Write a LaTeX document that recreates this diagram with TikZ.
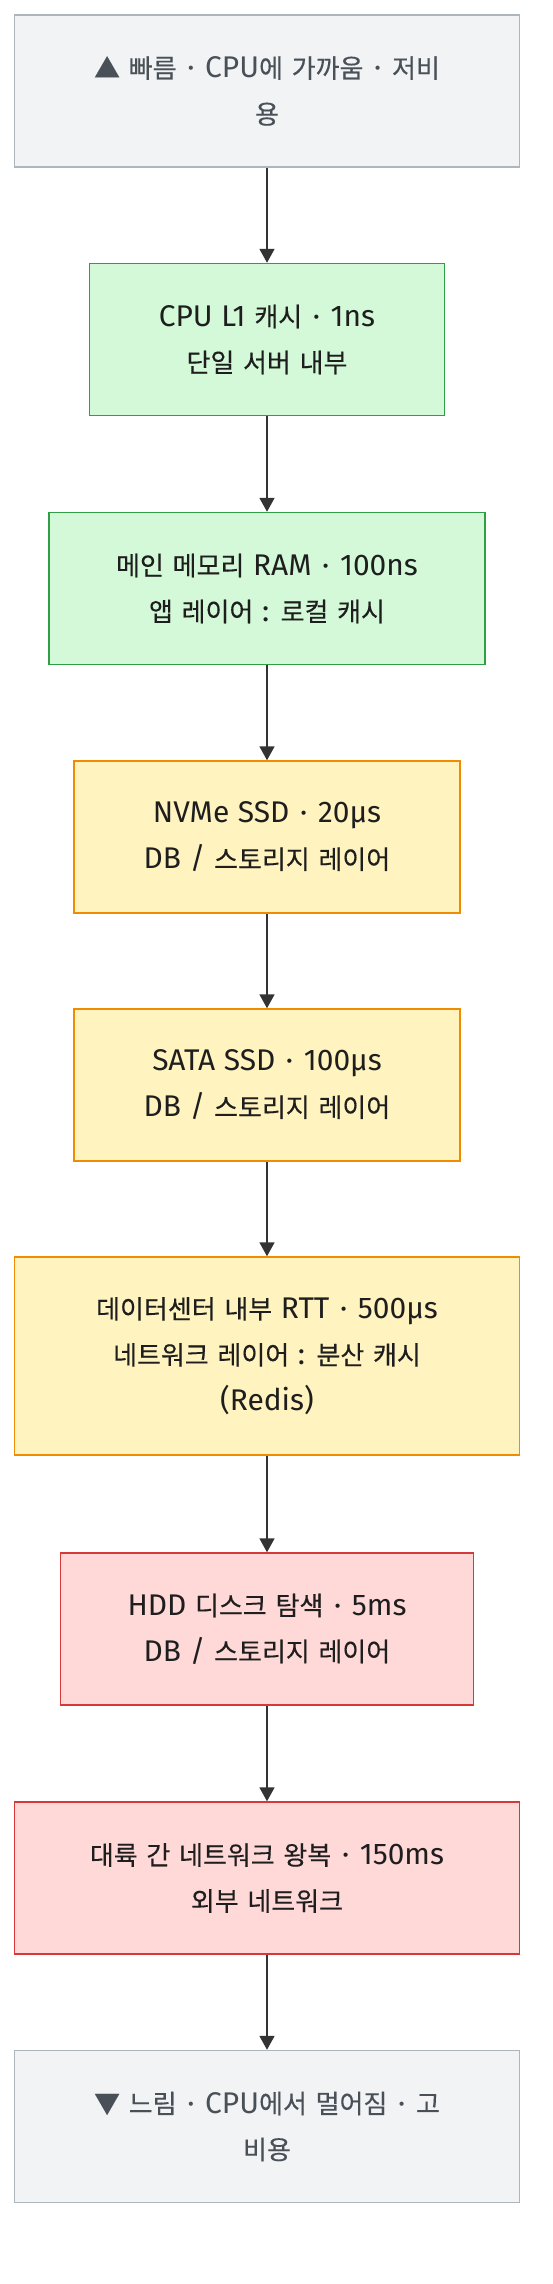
\documentclass[tikz,border=0pt]{standalone}
\usepackage{fontspec}
\setmainfont{Noto Sans CJK KR}[FakeBold=0.3]
\newfontfamily\latf{Fira Sans}[Scale=1.15]
\newcommand\LatRun[1]{{\latf #1}}
\newcommand\MD{\kern2pt·\kern2pt}
\newcommand\BoxFont{\fontsize{26}{46}\selectfont\spaceskip=8.7pt\relax}
\usetikzlibrary{arrows.meta}
\definecolor{grayfill}{HTML}{F1F3F5}
\definecolor{graydraw}{HTML}{ADB5BD}
\definecolor{graytext}{HTML}{495057}
\definecolor{greenfill}{HTML}{D3F9D8}
\definecolor{greendraw}{HTML}{2F9E44}
\definecolor{yellowfill}{HTML}{FFF3BF}
\definecolor{yellowdraw}{HTML}{F08C00}
\definecolor{redfill}{HTML}{FFD8D8}
\definecolor{reddraw}{HTML}{D63939}
\definecolor{maintext}{HTML}{1E1E1E}
\definecolor{arrowcol}{HTML}{333333}
\tikzset{
  box/.style={draw, line width=1.5pt, rectangle, inner sep=0pt, align=center,
    minimum height=152pt, font=\BoxFont, text=maintext},
  graybox/.style={box, fill=grayfill, draw=graydraw, text=graytext},
  greenbox/.style={box, fill=greenfill, draw=greendraw},
  yellowbox/.style={box, fill=yellowfill, draw=yellowdraw},
  redbox/.style={box, fill=redfill, draw=reddraw},
  conn/.style={draw=arrowcol, line width=1.8pt, -{Triangle[length=14pt,width=15pt]}}
}
\begin{document}
\begin{tikzpicture}
\useasboundingbox[fill=white] (0pt,0pt) rectangle (552pt,-2284pt);
\node[graybox, minimum width=505pt] (n1) at (267pt,-91pt) {▲ 빠름\LatRun{ \MD{} CPU}에 가까움\LatRun{ \MD{} }저비\\용};
\node[greenbox, minimum width=355pt] (n2) at (267pt,-339.5pt) {\LatRun{CPU L1 }캐시\LatRun{ \MD{} 1ns}\\단일 서버 내부};
\node[greenbox, minimum width=436pt] (n3) at (267pt,-588.5pt) {메인 메모리\LatRun{ RAM \MD{} 100ns}\\앱 레이어\LatRun{ : }로컬 캐시};
\node[yellowbox, minimum width=386pt] (n4) at (267pt,-837pt) {\LatRun{NVMe SSD \MD{} 20µs}\\\LatRun{DB / }스토리지 레이어};
\node[yellowbox, minimum width=386pt] (n5) at (267pt,-1085pt) {\LatRun{SATA SSD \MD{} 100µs}\\\LatRun{DB / }스토리지 레이어};
\node[yellowbox, minimum width=505pt, minimum height=198pt] (n6) at (267pt,-1356pt) {데이터센터 내부\LatRun{ RTT \MD{} 500µs}\\네트워크 레이어\LatRun{ : }분산 캐시\\\LatRun{(Redis)}};
\node[redbox, minimum width=413pt] (n7) at (267pt,-1629pt) {\LatRun{HDD }디스크 탐색\LatRun{ \MD{} 5ms}\\\LatRun{DB / }스토리지 레이어};
\node[redbox, minimum width=505pt] (n8) at (267pt,-1878pt) {대륙 간 네트워크 왕복\LatRun{ \MD{} 150ms}\\외부 네트워크};
\node[graybox, minimum width=505pt] (n9) at (267pt,-2126.5pt) {▼ 느림\LatRun{ \MD{} CPU}에서 멀어짐\LatRun{ \MD{} }고\\비용};
\foreach \a/\b in {n1/n2,n2/n3,n3/n4,n4/n5,n5/n6,n6/n7,n7/n8,n8/n9}
  \draw[conn] (\a.south) -- (\b.north);
\end{tikzpicture}
\end{document}
